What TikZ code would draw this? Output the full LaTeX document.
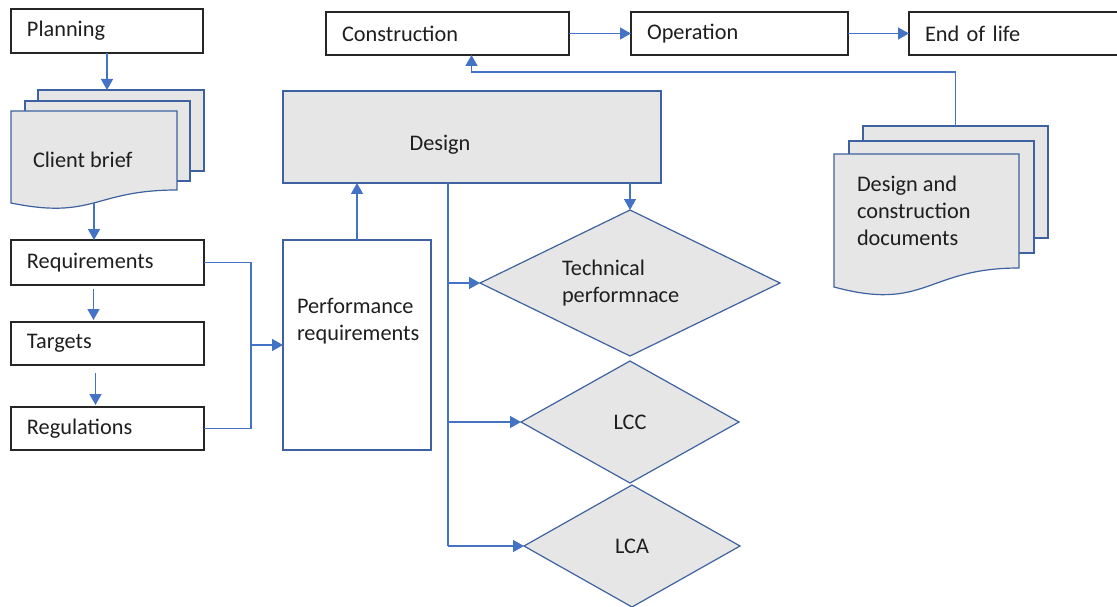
\documentclass[tikz,border=0pt]{standalone}
\usepackage{fontspec}
\setmainfont{Carlito}
\usetikzlibrary{calc,shapes.geometric,arrows.meta}

\definecolor{lineblue}{RGB}{68,114,196}
\definecolor{edgeblue}{RGB}{62,98,160}
\definecolor{pagegray}{RGB}{230,230,230}
\definecolor{textgray}{RGB}{30,30,30}

\tikzset{
  stepbox/.style={draw=black!85, line width=1.3pt, rectangle, anchor=north west,
    minimum height=44pt, inner xsep=16pt, text width=#1-32pt, align=left},
  page/.style={draw=edgeblue, fill=pagegray, line width=1.2pt, rectangle, anchor=north west},
  block/.style={draw=edgeblue, line width=1.2pt, rectangle, anchor=north west},
  check/.style={draw=edgeblue, fill=pagegray, line width=1.2pt, diamond, shape aspect=2},
  line/.style={draw=lineblue, line width=1.4pt},
  arr/.style={line, -{Triangle[length=11pt,width=12pt]}},
}

\begin{document}
\begin{tikzpicture}[x=1pt, y=-1pt, inner sep=0pt, outer sep=0pt,
  every node/.style={font=\fontsize{22.3pt}{27pt}\selectfont, text=textgray}]
    \useasboundingbox (0,0) rectangle (1117,607);

    % stages
    \node[stepbox=192pt] (planning) at (11,9) {Planning};
    \node[stepbox=243pt, minimum height=43pt] (construction) at (326,12) {Construction};
    \node[stepbox=217pt, minimum height=43pt] (operation) at (631,12) {Operation};
    \node[stepbox=230pt, minimum height=43pt] (end_life) at (909,12) {End of life};

    % client brief
    \node[page, minimum width=166pt, minimum height=81pt] (brief_back) at (38,90) {};
    \node[page, minimum width=165pt, minimum height=80pt] (brief_mid) at (25,101) {};
    \filldraw[page] (11,111) -- (177,111) -- (177,190)
        .. controls (94,190) and (94,220) .. (11,203) -- cycle;
    \node[anchor=west] (brief) at (33,160) {Client brief};
    \coordinate (brief_bottom) at (94,203);

    % inputs
    \node[stepbox=193pt, minimum height=45pt] (requirements) at (11,240) {Requirements};
    \node[stepbox=193pt, minimum height=43pt] (targets) at (11,322) {Targets};
    \node[stepbox=193pt, minimum height=43pt] (regulations) at (11,407) {Regulations};

    % performance requirements
    \node[block, minimum width=148pt, minimum height=210pt] (perf_req) at (283,240) {};
    \node[anchor=west, align=left] (perf_req_txt) at (297,321) {Performance\\requirements};

    % design
    \node[block, fill=pagegray, minimum width=378pt, minimum height=92pt] (design) at (283,91) {};
    \node (design_txt) at (440,145) {Design};

    % checks
    \node[check, minimum width=300pt, minimum height=146pt, text width=136pt, align=left]
    (tech) at (630,283) {Technical\\performnace};
    \node[check, minimum width=218pt, minimum height=122pt] (lcc) at (630,422) {LCC};
    \node[check, minimum width=216pt, minimum height=122pt] (lca) at (632,546) {LCA};

    % documents
    \node[page, minimum width=185pt, minimum height=112pt] (docs_back) at (863,126) {};
    \node[page, minimum width=185pt, minimum height=112pt] (docs_mid) at (849,141) {};
    \filldraw[page] (834,154) -- (1019,154) -- (1019,268)
        .. controls (926,268) and (926,312) .. (834,287) -- cycle;
    \node[anchor=west, align=left] (docs) at (857,211) {Design and\\construction\\documents};

    % arrows left column
    \draw[arr] (planning.south) -- (planning.south |- brief_back.north);
    \draw[arr] (brief_bottom) -- (brief_bottom |- requirements.north);
    \draw[arr] ($(requirements.south)+(-14,4)$) -- ($(targets.north)+(-14,-2)$);
    \draw[arr] ($(targets.south)+(-12,8)$) -- ($(regulations.north)+(-12,-2)$);

    \coordinate (req_join) at ($(requirements.east)+(47,0)$);
    \draw[line] (requirements.east) -- (req_join) -- (req_join |- regulations.east) -- (regulations.east);
    \draw[arr] (req_join |- perf_req.west) -- (perf_req.west);
    \draw[arr] (perf_req.north) -- (perf_req.north |- design.south);

    % arrows to checks
    \coordinate (branch) at ($(design.south)+(-24,0)$);
    \draw[line] (branch) -- (branch |- lca.west);
    \draw[arr] (branch |- tech.west) -- (tech.west);
    \draw[arr] (branch |- lcc.west) -- (lcc.west);
    \draw[arr] (branch |- lca.west) -- (lca.west);
    \draw[arr] (tech.north |- design.south) -- (tech.north);

    % arrows top row
    \draw[arr] (construction.east) -- (operation.west);
    \draw[arr] (operation.east) -- (end_life.west);
    \draw[arr] (docs_back.north) |- ($(construction.south)+(24,17)$) -- ($(construction.south)+(24,0)$);

\end{tikzpicture}
\end{document}
